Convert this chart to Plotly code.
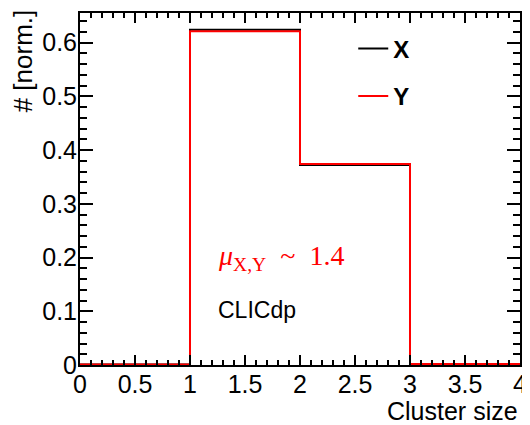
import plotly.graph_objects as go

# Data
bin_edges = [0, 1, 2, 3, 4]
x_values = [0.001, 0.624, 0.372, 0.002]
y_values = [0.001, 0.621, 0.374, 0.002]
series_names = ["X", "Y"]
series_colors = ["black", "#ff0000"]

def step(vals):
    return vals + [vals[-1]]

fig = go.Figure()
for i, (name, vals, col) in enumerate(zip(series_names, [x_values, y_values], series_colors)):
    fig.add_trace(go.Scatter(
        x=bin_edges, y=step(vals), mode="lines", line_shape="hv",
        line=dict(color=col, width=2), name=f"<b>{name}</b>",
        legend="legend" if i == 0 else "legend2", showlegend=True,
    ))

FONT = "Liberation Sans, Arial, sans-serif"
axis_common = dict(
    showline=True, linecolor="black", linewidth=2, mirror="allticks",
    ticks="inside", tickcolor="black", tickwidth=1.5,
    showgrid=False, zeroline=False, ticklabeloverflow="allow",
    tickfont=dict(family=FONT, size=25, color="black"),
)
fig.update_xaxes(range=[0, 4], dtick=0.5, tick0=0, ticklen=10,
                 minor=dict(dtick=0.1, ticklen=5, ticks="inside", tickcolor="black", tickwidth=1.5),
                 ticklabelstandoff=-4, **axis_common)
fig.update_yaxes(range=[0, 0.655], dtick=0.1, tick0=0, ticklen=13,
                 minor=dict(dtick=0.02, ticklen=7, ticks="inside", tickcolor="black", tickwidth=1.5),
                 ticklabelstandoff=-4, **axis_common)

legend_common = dict(font=dict(family=FONT, size=24, color="black"), bgcolor="rgba(0,0,0,0)",
                     itemwidth=30, xanchor="left", yanchor="middle", tracegroupgap=0)
fig.update_layout(
    width=522, height=417,
    margin=dict(l=72, r=6, t=3, b=60),
    plot_bgcolor="white", paper_bgcolor="white",
    showlegend=True,
    legend=dict(x=0.621, y=0.898, **legend_common),
    legend2=dict(x=0.621, y=0.763, **legend_common),
    annotations=[
        dict(text="# [norm.]", xref="paper", yref="paper", x=-0.13, y=1.017,
             xanchor="center", yanchor="top", textangle=-90, showarrow=False,
             font=dict(family=FONT, size=26, color="black")),
        dict(text="Cluster size", xref="paper", yref="paper", x=1.0, y=-0.13,
             xanchor="right", yanchor="middle", showarrow=False,
             font=dict(family=FONT, size=25, color="black")),
        dict(text="<i>μ</i><sub>X,Y</sub>  ~  1.4", xref="paper", yref="paper", x=0.309, y=0.305,
             xanchor="left", yanchor="middle", showarrow=False,
             font=dict(family="Liberation Serif, Times New Roman, serif", size=28, color="#ff0000")),
        dict(text="CLICdp", xref="paper", yref="paper", x=0.309, y=0.155,
             xanchor="left", yanchor="middle", showarrow=False,
             font=dict(family=FONT, size=23, color="black")),
    ],
)
fig.write_html("out.html")
